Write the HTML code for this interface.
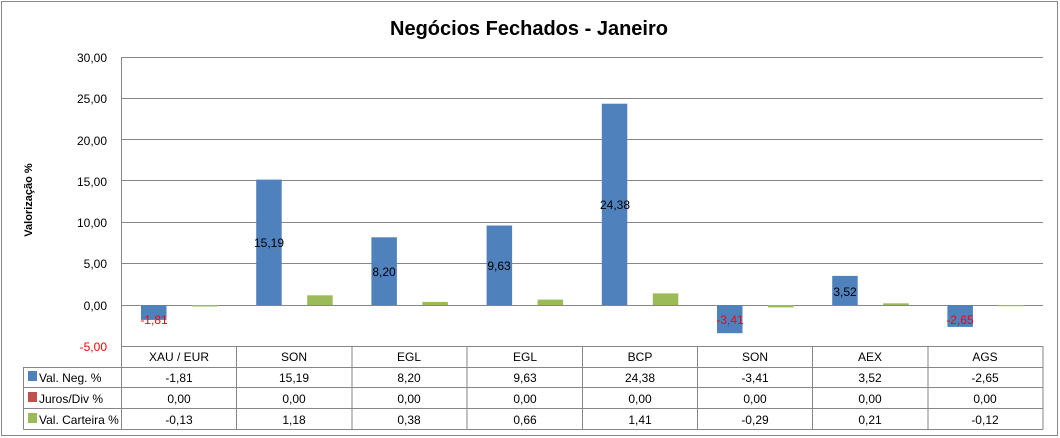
<!DOCTYPE html>
<html><head><meta charset="utf-8"><style>
html,body{margin:0;padding:0;background:#fff}
svg{display:block}
text{font-family:"Liberation Sans",sans-serif;font-size:12px;fill:#000}
</style></head><body>
<svg width="1060" height="438" viewBox="0 0 1060 438" xmlns="http://www.w3.org/2000/svg">
<rect x="1.5" y="1.5" width="1056" height="434" fill="#fff" stroke="#888" stroke-width="1"/>
<text x="529" y="35" text-anchor="middle" style="font-size:20px;font-weight:bold" textLength="278" lengthAdjust="spacingAndGlyphs">Negócios Fechados - Janeiro</text>
<text transform="translate(32,200) rotate(-90)" text-anchor="middle" style="font-size:11px;font-weight:bold">Valorização %</text>
<g stroke="#868686" stroke-width="1">
<line x1="121.5" y1="57.5" x2="1043" y2="57.5"/>
<line x1="121.5" y1="98.5" x2="1043" y2="98.5"/>
<line x1="121.5" y1="139.5" x2="1043" y2="139.5"/>
<line x1="121.5" y1="180.5" x2="1043" y2="180.5"/>
<line x1="121.5" y1="222.5" x2="1043" y2="222.5"/>
<line x1="121.5" y1="263.5" x2="1043" y2="263.5"/>
<line x1="121.5" y1="305.5" x2="1043" y2="305.5"/>
<line x1="121.5" y1="57" x2="121.5" y2="346"/>
</g>
<g text-anchor="end" style="font-size:13px">
<text x="107" y="62">30,00</text>
<text x="107" y="103">25,00</text>
<text x="107" y="145">20,00</text>
<text x="107" y="186">15,00</text>
<text x="107" y="227">10,00</text>
<text x="107" y="268">5,00</text>
<text x="107" y="310">0,00</text>
<text x="107" y="351" style="fill:#ff0000">-5,00</text>
</g>
<g fill="#4f81bd">
<rect x="141" y="305" width="25.5" height="14.9"/>
<rect x="256.2" y="179.6" width="25.5" height="125.4"/>
<rect x="371.4" y="237.3" width="25.5" height="67.7"/>
<rect x="486.6" y="225.5" width="25.5" height="79.5"/>
<rect x="601.8" y="103.7" width="25.5" height="201.3"/>
<rect x="717" y="305" width="25.5" height="28.2"/>
<rect x="832.2" y="275.9" width="25.5" height="29.1"/>
<rect x="947.4" y="305" width="25.5" height="21.9"/>
</g>
<g fill="#9bbb59">
<rect x="192" y="305" width="25.5" height="1.5"/>
<rect x="307.2" y="295.3" width="25.5" height="9.7"/>
<rect x="422.4" y="301.9" width="25.5" height="3.1"/>
<rect x="537.6" y="299.6" width="25.5" height="5.4"/>
<rect x="652.8" y="293.4" width="25.5" height="11.6"/>
<rect x="768" y="305" width="25.5" height="2.4"/>
<rect x="883.2" y="303.3" width="25.5" height="1.7"/>
<rect x="998.4" y="305" width="25.5" height="1.2"/>
</g>
<g text-anchor="middle">
<text x="154" y="324" style="fill:#ff0000">-1,81</text>
<text x="269" y="247">15,19</text>
<text x="384" y="276">8,20</text>
<text x="499" y="270">9,63</text>
<text x="615" y="209">24,38</text>
<text x="730" y="324" style="fill:#ff0000">-3,41</text>
<text x="845" y="296">3,52</text>
<text x="960" y="324" style="fill:#ff0000">-2,65</text>
</g>
<g stroke="#868686" stroke-width="1" fill="none">
<line x1="121.5" y1="346.5" x2="1043" y2="346.5"/>
<line x1="23.5" y1="367.5" x2="1043" y2="367.5"/>
<line x1="23.5" y1="387.5" x2="1043" y2="387.5"/>
<line x1="23.5" y1="408.5" x2="1043" y2="408.5"/>
<line x1="23.5" y1="429.5" x2="1043" y2="429.5"/>
<line x1="23.5" y1="367" x2="23.5" y2="429.5"/>
<line x1="121.5" y1="346" x2="121.5" y2="429.5"/>
<line x1="236.5" y1="346" x2="236.5" y2="429.5"/>
<line x1="352" y1="346" x2="352" y2="429.5"/>
<line x1="467" y1="346" x2="467" y2="429.5"/>
<line x1="582.5" y1="346" x2="582.5" y2="429.5"/>
<line x1="697.5" y1="346" x2="697.5" y2="429.5"/>
<line x1="812.5" y1="346" x2="812.5" y2="429.5"/>
<line x1="928" y1="346" x2="928" y2="429.5"/>
<line x1="1043" y1="346" x2="1043" y2="429.5"/>
</g>
<rect x="28" y="371" width="9" height="10" fill="#4f81bd"/>
<rect x="28" y="392" width="9" height="10" fill="#c0504d"/>
<rect x="28" y="413" width="9" height="10" fill="#9bbb59"/>
<text x="39" y="382">Val. Neg. %</text>
<text x="39" y="403">Juros/Div %</text>
<text x="39" y="424">Val. Carteira %</text>
<g text-anchor="middle">
<text x="179" y="361">XAU / EUR</text><text x="294" y="361">SON</text><text x="409" y="361">EGL</text><text x="525" y="361">EGL</text><text x="640" y="361">BCP</text><text x="755" y="361">SON</text><text x="870" y="361">AEX</text><text x="985" y="361">AGS</text>
<text x="179" y="382">-1,81</text><text x="294" y="382">15,19</text><text x="409" y="382">8,20</text><text x="525" y="382">9,63</text><text x="640" y="382">24,38</text><text x="755" y="382">-3,41</text><text x="870" y="382">3,52</text><text x="985" y="382">-2,65</text>
<text x="179" y="403">0,00</text><text x="294" y="403">0,00</text><text x="409" y="403">0,00</text><text x="525" y="403">0,00</text><text x="640" y="403">0,00</text><text x="755" y="403">0,00</text><text x="870" y="403">0,00</text><text x="985" y="403">0,00</text>
<text x="179" y="424">-0,13</text><text x="294" y="424">1,18</text><text x="409" y="424">0,38</text><text x="525" y="424">0,66</text><text x="640" y="424">1,41</text><text x="755" y="424">-0,29</text><text x="870" y="424">0,21</text><text x="985" y="424">-0,12</text>
</g>
</svg>
</body></html>
